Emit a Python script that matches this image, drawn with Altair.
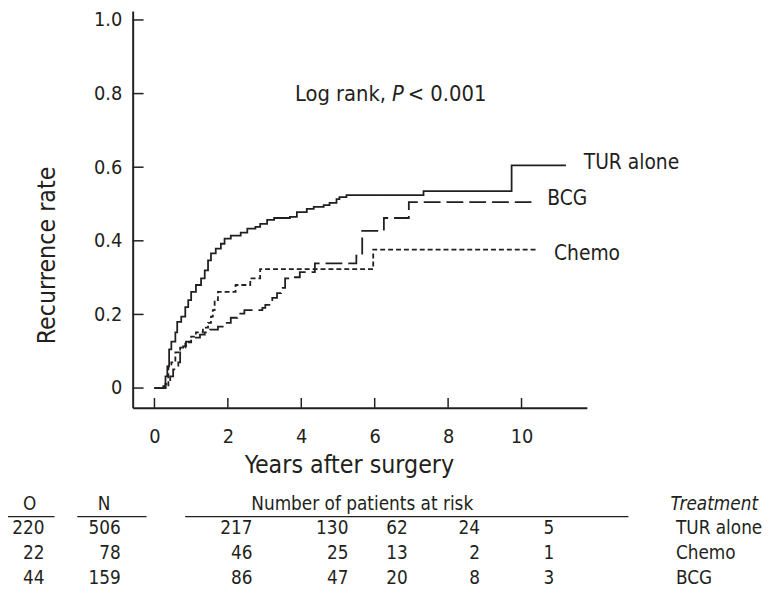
import altair as alt
import pandas as pd

FONT = "Liberation Sans Narrow, DejaVu Sans Condensed, Roboto, sans-serif"
INK = "#231f20"

# ---- data ----
tur_t = [0, 0.24, 0.30, 0.35, 0.40, 0.46, 0.57, 0.62, 0.73, 0.84, 0.92, 1.00, 1.13, 1.27,
         1.37, 1.46, 1.54, 1.67, 1.81, 1.91, 2.08, 2.35, 2.53, 2.75, 2.88, 3.07, 3.26, 3.69,
         3.88, 4.15, 4.34, 4.61, 4.77, 4.96, 5.04, 5.23, 7.33, 9.73, 11.21]
tur_r = [0, 0.005, 0.032, 0.059, 0.105, 0.126, 0.151, 0.180, 0.194, 0.220, 0.239, 0.261,
         0.280, 0.298, 0.320, 0.347, 0.366, 0.379, 0.392, 0.406, 0.414, 0.422, 0.433, 0.438,
         0.446, 0.457, 0.462, 0.465, 0.478, 0.487, 0.492, 0.497, 0.503, 0.513, 0.519, 0.524,
         0.535, 0.605, 0.605]
bcg_t = [0, 0.30, 0.43, 0.51, 0.65, 0.70, 0.78, 0.86, 1.00, 1.24, 1.37, 1.51, 1.73, 1.94,
         2.08, 2.26, 2.45, 2.94, 3.02, 3.13, 3.21, 3.34, 3.45, 3.56, 3.80, 3.96, 4.37, 5.50,
         5.66, 6.25, 6.93, 10.27]
bcg_r = [0, 0.011, 0.032, 0.051, 0.070, 0.097, 0.113, 0.126, 0.137, 0.145, 0.151, 0.159,
         0.167, 0.177, 0.191, 0.202, 0.212, 0.218, 0.226, 0.234, 0.245, 0.258, 0.272, 0.298,
         0.301, 0.315, 0.339, 0.360, 0.427, 0.462, 0.505, 0.505]
chemo_t = [0, 0.30, 0.38, 0.46, 0.57, 0.70, 0.84, 1.00, 1.13, 1.32, 1.46, 1.54, 1.59, 1.64,
           1.73, 2.21, 2.61, 2.88, 5.96, 10.40]
chemo_r = [0, 0.005, 0.059, 0.070, 0.097, 0.110, 0.124, 0.140, 0.151, 0.164, 0.177, 0.194,
           0.212, 0.239, 0.261, 0.280, 0.298, 0.323, 0.376, 0.376]

series_names = ["TUR alone", "BCG", "Chemo"]
x_ticks = [0, 2, 4, 6, 8, 10]
y_ticks = [0, 0.2, 0.4, 0.6, 0.8, 1.0]

table_groups = ["TUR alone", "Chemo", "BCG"]
observed = [220, 22, 44]
n_total = [506, 78, 159]
at_risk = [[217, 130, 62, 24, 5],
           [46, 25, 13, 2, 1],
           [86, 47, 20, 8, 3]]

# ---- layout (pixels, relative to plot area) ----
W, H = 459, 401
XDOM = [-0.593, 11.78]
YDOM = [-0.0538, 1.0242]

rows = []
for name, ts, rs in [("TUR alone", tur_t, tur_r), ("BCG", bcg_t, bcg_r), ("Chemo", chemo_t, chemo_r)]:
    for t, r in zip(ts, rs):
        rows.append({"series": name, "t": t, "r": r})
curves = pd.DataFrame(rows)

xs = alt.Scale(domain=XDOM, nice=False, zero=False)
ys = alt.Scale(domain=YDOM, nice=False, zero=False)

x_axis = alt.Axis(values=x_ticks, ticks=False, tickSize=0, grid=False, title=None,
                  labelFont=FONT, labelFontSize=20, labelColor=INK, labelPadding=19,
                  domainColor=INK, domainWidth=2, labelFlush=False)
y_axis = alt.Axis(values=y_ticks, ticks=False, tickSize=0, grid=False, title=None,
                  format=".1f", labelExpr="datum.value == 0 ? '0' : datum.label",
                  labelFont=FONT, labelFontSize=20, labelColor=INK, labelPadding=11,
                  domainColor=INK, domainWidth=2, labelFlush=False)

lines = alt.Chart(curves).mark_line(interpolate="step-after", color=INK, strokeWidth=1.8).encode(
    x=alt.X("t:Q", scale=xs, axis=x_axis),
    y=alt.Y("r:Q", scale=ys, axis=y_axis),
    detail="series:N",
    strokeDash=alt.StrokeDash("series:N", legend=None,
                              scale=alt.Scale(domain=series_names,
                                              range=[[1, 0], [17, 6], [5, 3]])),
)

# tick marks drawn inward
ytick_df = pd.DataFrame({"v": y_ticks})
xtick_df = pd.DataFrame({"v": x_ticks})
yticks = alt.Chart(ytick_df).mark_rule(color=INK, strokeWidth=1.5).encode(
    y=alt.Y("v:Q", scale=ys), x=alt.value(0), x2=alt.value(11))
xticks = alt.Chart(xtick_df).mark_rule(color=INK, strokeWidth=1.5).encode(
    x=alt.X("v:Q", scale=xs), y=alt.value(H), y2=alt.value(H - 10))

# curve end labels
ends = curves.groupby("series", as_index=False).last()
label_layers = []
for name, dx, dy in [("TUR alone", 18, -2), ("BCG", 16, -3), ("Chemo", 18, 4)]:
    label_layers.append(
        alt.Chart(ends[ends.series == name]).mark_text(
            align="left", baseline="middle", dx=dx, dy=dy, font=FONT, fontSize=21, color=INK
        ).encode(x=alt.X("t:Q", scale=xs), y=alt.Y("r:Q", scale=ys), text="series:N")
    )


def txt(s, x, y, size=21, align="left", italic=False, angle=0):
    kw = dict(align=align, baseline="middle", font=FONT, fontSize=size, color=INK, text=s)
    if italic:
        kw["fontStyle"] = "italic"
    if angle:
        kw["angle"] = angle
    return alt.Chart(pd.DataFrame({"a": [0]})).mark_text(**kw).encode(
        x=alt.value(x), y=alt.value(y))


def hline(x1, x2, y):
    return alt.Chart(pd.DataFrame({"a": [0]})).mark_rule(color=INK, strokeWidth=1.2).encode(
        x=alt.value(x1), x2=alt.value(x2), y=alt.value(y))


ann = [
    txt("Log rank,", 164, 84, size=22),
    txt("P", 262, 84, size=22, italic=True),
    txt("< 0.001", 278, 84, size=22),
    txt("Recurrence rate", -86, 247, size=25, align="center", angle=270),
    txt("Years after surgery", 219, 459, size=25, align="center"),
]

# risk table
TS = 19
HEAD_Y, LINE_Y = 498, 511
ROW_Y = [522, 548, 573]
COL_X = [-89, -12, 121, 218, 278, 351, 426]
NAME_X = 549
table = [
    txt("O", -104, HEAD_Y, size=TS, align="center"),
    txt("N", -29, HEAD_Y, size=TS, align="center"),
    txt("Number of patients at risk", 232, HEAD_Y, size=TS, align="center"),
    txt("Treatment", 632, HEAD_Y, size=TS, italic=True, align="right"),
    hline(-134, -79, LINE_Y),
    hline(-56, 14, LINE_Y),
    hline(53, 501, LINE_Y),
]
for i, g in enumerate(table_groups):
    vals = [observed[i], n_total[i]] + at_risk[i]
    for cx, v in zip(COL_X, vals):
        table.append(txt(str(v), cx, ROW_Y[i], size=TS, align="right"))
    table.append(txt(g, NAME_X, ROW_Y[i], size=TS))

chart = alt.layer(lines, yticks, xticks, *label_layers, *ann, *table).properties(
    width=W, height=H,
    autosize=alt.AutoSizeParams(type="none"),
    padding={"left": 126, "top": 0, "right": 178, "bottom": 183},
    background="white",
).configure_view(stroke=None)

chart.save("out.html", embed_options={"renderer": "svg", "actions": False})
